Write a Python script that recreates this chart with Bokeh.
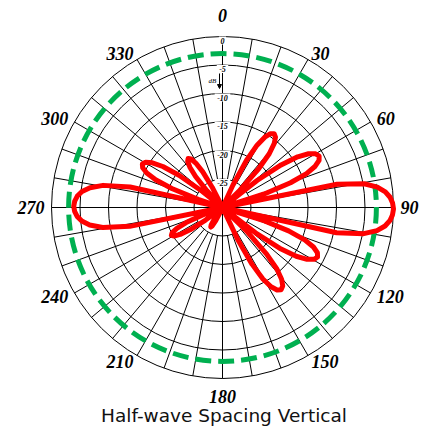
import math
from bokeh.plotting import figure
from bokeh.models import Range1d, Arrow, NormalHead
from bokeh.core.properties import value
from bokeh.embed import file_html
from bokeh.resources import INLINE

# ---- pattern data (compass bearing in degrees, relative gain in dB) ----
angle_deg = [
    21, 23, 25, 27, 29, 31, 33, 35, 37, 39, 41, 43, 45, 47,
    48.5, 50, 52, 54, 56, 58, 60, 62, 64, 66, 68, 70, 72, 74,
    76.25, 78.5, 80.5, 82.5, 84.5, 86.5, 88.5, 90.5, 92.5, 94.5, 96.5, 98.5, 100.5, 102.5,
    104, 105.5, 107.5, 109.5, 111.5, 113.5, 115.5, 117.5, 119.5, 121.5, 123.5, 125.5, 127.5, 129.5,
    131, 132.5, 134.5, 136.5, 138.5, 140.5, 142.5, 144.5, 146.5, 148.5, 150.5, 152.5, 154.5, 156.5,
    158.5, 180, 197,
    199, 201, 203, 205, 207, 209, 211, 213, 215, 217, 219, 221, 223,
    226, 229.5, 231.5, 233.5, 235.5, 237.5, 239.5, 241.5, 243.5, 245.5, 247.5, 249.5, 251.5, 253.5,
    256, 258.5, 260.5, 262.5, 264.5, 266.5, 268.5, 270.5, 272.5, 274.5, 276.5, 278.5, 280.5, 282.5,
    284.5, 286.5, 288.5, 290.5, 292.5, 294.5, 296.5, 298.5, 300.5, 302.5, 304.5, 306.5, 308.5, 310.5,
    311.75, 313, 315, 317, 319, 321, 323, 325, 327, 329, 331, 333, 335, 337,
    339,
]
gain_db = [
    -40, -34.2, -25.7, -20.7, -17.5, -15.6, -14.55, -14.2, -14.55, -15.6, -17.5, -20.7, -25.7, -34.2,
    -40, -30.8, -22.3, -17.3, -14.1, -12.2, -11.15, -10.8, -11.15, -12.2, -14.1, -17.3, -22.3, -30.8,
    -40, -9.5, -4.8, -2.6, -1.3, -0.55, -0.15, 0.0, -0.15, -0.55, -1.3, -2.6, -4.8, -9.5,
    -40, -31.2, -22.7, -17.7, -14.5, -12.6, -11.55, -11.2, -11.55, -12.6, -14.5, -17.7, -22.7, -31.2,
    -40, -32.3, -23.8, -18.8, -15.6, -13.7, -12.65, -12.3, -12.65, -13.7, -15.6, -18.8, -23.8, -32.3,
    -40, -40, -40,
    -46.0, -37.5, -32.5, -29.3, -27.4, -26.35, -26.0, -26.35, -27.4, -29.3, -32.5, -37.5, -46.0,
    -40, -39.8, -31.3, -26.3, -23.1, -21.2, -20.15, -19.8, -20.15, -21.2, -23.1, -26.3, -31.3, -39.8,
    -40, -13.4, -8.7, -6.5, -5.2, -4.45, -4.05, -3.9, -4.05, -4.45, -5.2, -6.5, -8.7, -13.4,
    -40, -34.0, -25.5, -20.5, -17.3, -15.4, -14.35, -14.0, -14.35, -15.4, -17.3, -20.5, -25.5, -34.0,
    -40, -39.5, -31.0, -26.0, -22.8, -20.9, -19.85, -19.5, -19.85, -20.9, -22.8, -26.0, -31.0, -39.5,
    -40,
]

ring_db = [0, -5, -10, -15, -20, -25]
ring_labels = ["0", "-5", "-10", "-15", "-20", "-25"]
reference_db = -3
spoke_step_deg = 10
bearing_deg = [0, 30, 60, 90, 120, 150, 180, 210, 240, 270, 300, 330]
bearing_labels = ["0", "30", "60", "90", "120", "150", "180", "210", "240", "270", "300", "330"]
title_text = "Half-wave Spacing Vertical"

DB_MIN = -30.0
R_OUT = 171.0
CX, CY = 222, 207  # pixel position of the pole


def radius(db):
    return max(0.0, (db - DB_MIN) / (0.0 - DB_MIN)) * R_OUT


def polar(r, deg):
    t = math.radians(deg)
    return r * math.sin(t), r * math.cos(t)


W, H = 435, 431
p = figure(width=W, height=H, output_backend="svg", toolbar_location=None,
           x_axis_type=None, y_axis_type=None, min_border=0,
           x_range=Range1d(-CX, W - CX), y_range=Range1d(CY - H, CY))
p.outline_line_color = None
p.grid.visible = False
p.background_fill_color = "white"

# rings
ring_r = [radius(d) for d in ring_db]
p.circle(x=[0] * len(ring_r), y=[0] * len(ring_r), radius=ring_r,
         fill_color=None, line_color="black", line_width=1)

# spokes
x0s, y0s, x1s, y1s = [], [], [], []
for a in range(0, 360, spoke_step_deg):
    r0 = 0.0 if a % 90 == 0 else radius(ring_db[-1])
    xa, ya = polar(r0, a)
    xb, yb = polar(R_OUT, a)
    x0s.append(xa); y0s.append(ya); x1s.append(xb); y1s.append(yb)
p.segment(x0=x0s, y0=y0s, x1=x1s, y1=y1s, line_color="black", line_width=1)

# -3 dB reference circle
p.circle(x=[0], y=[0], radius=[radius(reference_db)], fill_color=None,
         line_color="#00B050", line_width=5, line_dash="16 7")

# dB labels on the 0-degree spoke
lab_y = [radius(d) - 4 for d in ring_db]
p.rect(x=[0] * len(lab_y), y=lab_y, width=[3 + 4.2 * len(s) for s in ring_labels],
       height=[8] * len(lab_y), fill_color="white", line_color=None)
p.text(x=[0] * len(lab_y), y=lab_y, text=ring_labels, text_align="center",
       text_baseline="middle", text_font=value("Liberation Serif"),
       text_font_style="bold italic", text_font_size="8px", text_color="black")
p.text(x=[-10], y=[127], text=["dB"], text_align="center", text_baseline="middle",
       text_font=value("Liberation Serif"), text_font_style="italic",
       text_font_size="7px", text_color="black")
p.add_layout(Arrow(end=NormalHead(size=4, fill_color="black", line_color="black"),
                   x_start=-3, y_start=134, x_end=-3, y_end=119,
                   line_color="black", line_width=1))

# pattern
px, py = [], []
for a, g in zip(angle_deg, gain_db):
    x, y = polar(radius(g), a)
    px.append(x); py.append(y)
px.append(px[0]); py.append(py[0])
p.line(px, py, line_color="#FF0000", line_width=5, line_join="round")

# bearing labels
LR = 178
for a, s in zip(bearing_deg, bearing_labels):
    if a == 0:
        x, y = 0, 192
        align = "center"
    elif a == 180:
        x, y = 0, -189
        align = "center"
    else:
        x, y = polar(LR, a)
        align = "left" if a < 180 else "right"
    p.text(x=[x], y=[y], text=[s], text_align=align, text_baseline="middle",
           text_font=value("Liberation Serif"), text_font_style="bold italic",
           text_font_size="18px", text_color="black")

# title
p.text(x=[1.5], y=[-208], text=[title_text], text_align="center", text_baseline="middle",
       text_font=value("DejaVu Sans"), text_font_size="18.5px", text_color="#111111")

open("out.html", "w").write(file_html(p, INLINE))
